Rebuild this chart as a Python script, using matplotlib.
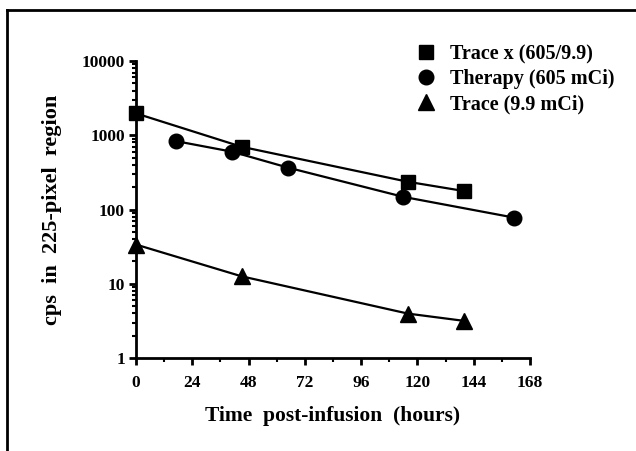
#!/usr/bin/env python3

import matplotlib
matplotlib.use('Agg')
import matplotlib.pyplot as plt
from matplotlib.lines import Line2D
from matplotlib.ticker import FixedLocator, NullFormatter

# values (hours, cps)
trace_x_hours = [0, 45, 116, 140]
trace_x_cps = [1970, 700, 236, 177]

therapy_hours = [17, 41, 65, 114, 161]
therapy_cps = [834, 600, 365, 148, 78]

trace_hours = [0, 45, 116, 140]
trace_cps = [33.7, 12.6, 3.96, 3.16]

x_ticks = [0, 24, 48, 72, 96, 120, 144, 168]
y_ticks = [1, 10, 100, 1000, 10000]
y_tick_labels = ['1', '10', '100', '1000', '10000']

legend_labels = ['Trace x (605/9.9)', 'Therapy (605 mCi)', 'Trace (9.9 mCi)']


def main():
    plt.rcParams['font.family'] = 'Liberation Serif'
    plt.rcParams['font.weight'] = 'bold'

    fig = plt.figure(figsize=(6.36, 4.51), dpi=100)
    ax = fig.add_axes([136 / 636, 1 - 358 / 451, 394 / 636, 297 / 451])

    style = dict(color='black', lw=1.6, clip_on=False)
    ax.plot(trace_x_hours, trace_x_cps, marker='s', ms=10.5, **style)
    ax.plot(therapy_hours, therapy_cps, marker='o', ms=10.5, **style)
    ax.plot(trace_hours, trace_cps, marker='^', ms=11, **style)

    ax.set_yscale('log')
    ax.set_xlim(0, 168)
    ax.set_ylim(1, 10000)
    ax.set_xticks(x_ticks)
    ax.set_xticks(list(range(12, 168, 24)), minor=True)
    ax.set_yticks(y_ticks)
    ax.set_yticklabels(y_tick_labels)
    ax.yaxis.set_minor_locator(FixedLocator(
        [m * 10 ** e for e in range(4) for m in range(2, 10)]))
    ax.yaxis.set_minor_formatter(NullFormatter())

    for side in ('top', 'right'):
        ax.spines[side].set_visible(False)
    for side in ('left', 'bottom'):
        ax.spines[side].set_linewidth(2)
    ax.tick_params(which='major', direction='out', length=5, width=2,
                   labelsize=12.5)
    ax.tick_params(axis='x', which='major', pad=7)
    ax.tick_params(axis='y', which='major', pad=3)
    ax.tick_params(which='minor', direction='out', length=3, width=1.5)

    ax.set_xlabel('Time  post-infusion  (hours)', fontsize=15.5,
                  fontweight='bold', labelpad=11)
    ax.set_ylabel('cps  in  225-pixel  region', fontsize=16,
                  fontweight='bold', labelpad=14)

    handles = [
        Line2D([], [], color='black', marker='s', ms=10.5, ls='none'),
        Line2D([], [], color='black', marker='o', ms=10.5, ls='none'),
        Line2D([], [], color='black', marker='^', ms=11, ls='none'),
    ]
    fig.legend(handles, legend_labels, loc='upper left',
               bbox_to_anchor=(408 / 636, 1 - 36 / 451), frameon=False,
               fontsize=14.5, handletextpad=0.7, labelspacing=0.25,
               handlelength=1.0, borderaxespad=0)

    # scanned page frame: only top and left edges show
    fig.add_artist(Line2D([7 / 636, 1.0], [1 - 10 / 451, 1 - 10 / 451],
                          color='black', lw=2, transform=fig.transFigure))
    fig.add_artist(Line2D([7 / 636, 7 / 636], [0, 1 - 10 / 451],
                          color='black', lw=2, transform=fig.transFigure))

    fig.savefig('out.png', dpi=100)


if __name__ == '__main__':
    main()
